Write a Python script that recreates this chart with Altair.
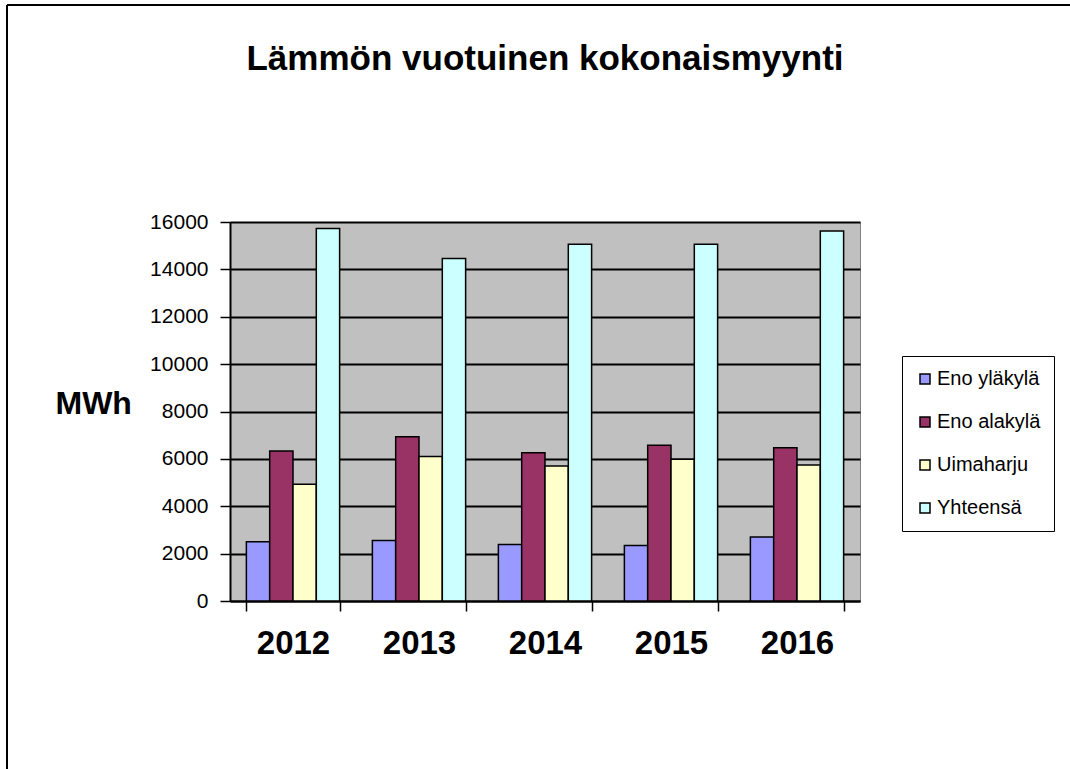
import altair as alt
import pandas as pd

title_text = ["Lämmön vuotuinen kokonaismyynti"]
years = ["2012", "2013", "2014", "2015", "2016"]
series = ["Eno yläkylä", "Eno alakylä", "Uimaharju", "Yhteensä"]
eno_ylakyla = [2500, 2550, 2380, 2340, 2700]
eno_alakyla = [6330, 6930, 6260, 6580, 6470]
uimaharju = [4930, 6100, 5700, 5980, 5740]
yhteensa = [15730, 14460, 15060, 15060, 15620]
colors = ["#9999FF", "#993366", "#FFFFCC", "#CCFFFF"]
y_ticks = [0, 2000, 4000, 6000, 8000, 10000, 12000, 14000, 16000]

rows = []
for name, vals in zip(series, [eno_ylakyla, eno_alakyla, uimaharju, yhteensa]):
    for yr, v in zip(years, vals):
        rows.append({"Vuosi": yr, "Sarja": name, "MWh": v})
df = pd.DataFrame(rows)

FONT = "Liberation Sans"

bars = alt.Chart(df).mark_bar(stroke="black", strokeWidth=1.5).encode(
    x=alt.X(
        "Vuosi:N",
        sort=years,
        scale=alt.Scale(paddingInner=0.26, paddingOuter=0.13),
        axis=alt.Axis(
            title=None,
            labelAngle=0,
            labelFontSize=33,
            labelFontWeight="bold",
            labelColor="black",
            labelPadding=16,
            tickBand="extent",
            tickColor="black",
            tickSize=10,
            tickWidth=1.5,
            domainColor="black",
            domainWidth=2,
            grid=False,
        ),
    ),
    xOffset=alt.XOffset("Sarja:N", sort=series),
    y=alt.Y(
        "MWh:Q",
        scale=alt.Scale(domain=[0, 16000], nice=False),
        axis=alt.Axis(
            values=y_ticks,
            format="d",
            title="MWh",
            titleAngle=0,
            titleFontSize=32,
            titleFontWeight="bold",
            titleColor="black",
            titleAlign="left",
            titleBaseline="alphabetic",
            titleX=-175,
            titleY=191,
            labelFontSize=21,
            labelColor="black",
            labelPadding=12,
            tickColor="black",
            tickSize=10,
            tickWidth=1.5,
            domainColor="black",
            domainWidth=2,
            grid=True,
            gridColor="black",
            gridWidth=2,
        ),
    ),
    color=alt.Color(
        "Sarja:N",
        sort=series,
        scale=alt.Scale(domain=series, range=colors),
        legend=alt.Legend(
            title=None,
            orient="none",
            legendX=672,
            legendY=134,
            symbolType="square",
            symbolSize=100,
            symbolStrokeColor="black",
            symbolStrokeWidth=1.5,
            labelFontSize=20,
            labelColor="black",
            labelOffset=2,
            rowPadding=23,
            padding=13,
            strokeColor="black",
            fillColor="white",
            labelLimit=200,
        ),
    ),
)

title_df = pd.DataFrame({"t": title_text})
title = alt.Chart(title_df).mark_text(
    fontSize=35, fontWeight="bold", color="black", align="center", baseline="alphabetic"
).encode(text="t:N", x=alt.value(315), y=alt.value(-152))

frame_df = pd.DataFrame({"k": [0]})
frame_top = alt.Chart(frame_df).mark_rule(color="black", strokeWidth=2).encode(
    x=alt.value(-223), x2=alt.value(845), y=alt.value(-217)
)
frame_left = alt.Chart(frame_df).mark_rule(color="black", strokeWidth=2).encode(
    x=alt.value(-223), y=alt.value(-217), y2=alt.value(560)
)

chart = alt.layer(bars, title, frame_top, frame_left).properties(
    width=630,
    height=379,
    autosize=alt.AutoSizeParams(type="none"),
    padding={"left": 230, "top": 222, "right": 210, "bottom": 168},
    background="white",
).configure(font=FONT).configure_view(fill="#C0C0C0", stroke="#808080", strokeWidth=1)

chart.save("out.html", embed_options={"renderer": "svg", "actions": False})
